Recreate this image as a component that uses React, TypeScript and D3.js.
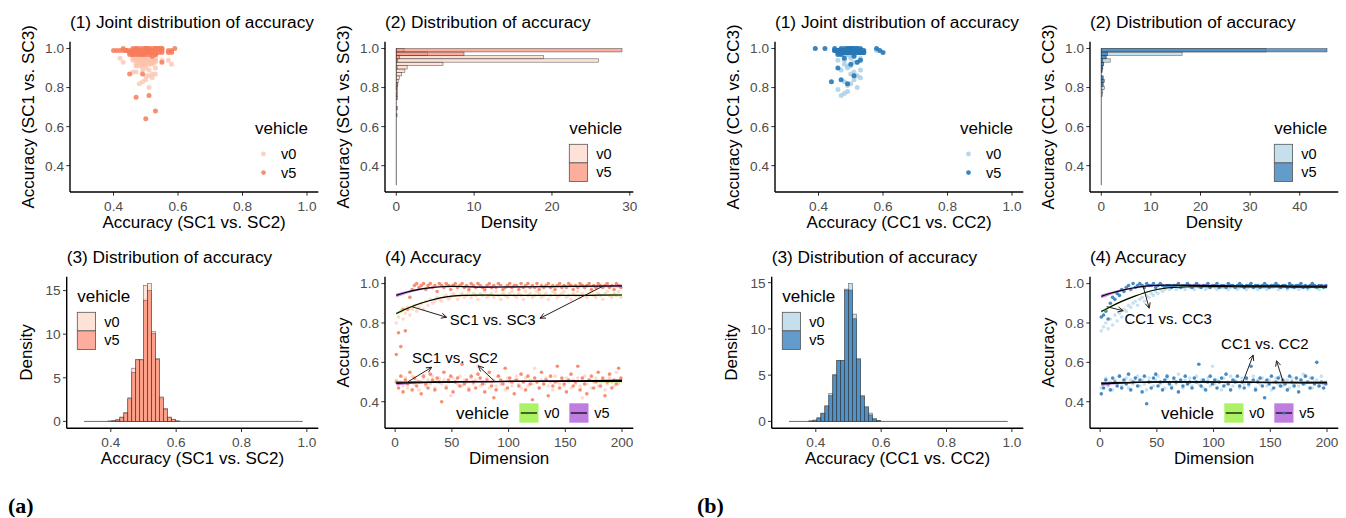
import React from "react";
import * as d3 from "d3";

const FONT = "'Liberation Sans', Arial, Helvetica, sans-serif";

// sampled dimensions (every other dimension)
const DIMS = d3.range(1, 201, 2);

// ---------- Figure (a): SC ----------
const A_SC12_V0 = [
  0.51,0.49,0.50,0.48,0.52,0.47,0.50,0.53,0.49,0.51,
  0.46,0.50,0.52,0.48,0.51,0.49,0.53,0.47,0.50,0.52,
  0.49,0.51,0.48,0.50,0.43,0.52,0.50,0.49,0.53,0.48,
  0.51,0.50,0.47,0.52,0.49,0.51,0.58,0.48,0.50,0.49,
  0.52,0.47,0.50,0.51,0.48,0.53,0.49,0.50,0.46,0.52,
  0.50,0.48,0.51,0.53,0.49,0.47,0.50,0.52,0.48,0.51,
  0.49,0.57,0.50,0.47,0.51,0.49,0.52,0.48,0.50,0.46,
  0.53,0.50,0.49,0.51,0.48,0.52,0.50,0.47,0.51,0.49,
  0.52,0.48,0.42,0.53,0.49,0.51,0.47,0.50,0.52,0.48,
  0.50,0.51,0.46,0.49,0.52,0.50,0.48,0.55,0.49,0.51];
const A_SC12_V5 = [
  0.50,0.47,0.53,0.45,0.51,0.49,0.55,0.46,0.52,0.48,
  0.50,0.44,0.53,0.49,0.47,0.54,0.51,0.46,0.52,0.50,
  0.40,0.55,0.47,0.51,0.53,0.45,0.50,0.52,0.48,0.59,
  0.49,0.51,0.46,0.53,0.50,0.47,0.54,0.52,0.49,0.45,
  0.51,0.55,0.48,0.42,0.46,0.53,0.51,0.49,0.57,0.47,
  0.52,0.50,0.44,0.51,0.48,0.54,0.50,0.46,0.53,0.49,
  0.41,0.52,0.50,0.47,0.55,0.49,0.51,0.43,0.53,0.48,
  0.50,0.58,0.47,0.52,0.49,0.45,0.51,0.54,0.48,0.50,
  0.58,0.46,0.52,0.49,0.44,0.51,0.53,0.47,0.50,0.55,
  0.48,0.52,0.43,0.50,0.54,0.47,0.51,0.49,0.57,0.52];
const A_SC13_V0 = [
  0.80,0.83,0.86,0.82,0.85,0.88,0.84,0.87,0.89,0.86,
  0.88,0.90,0.87,0.91,0.89,0.92,0.90,0.91,0.93,0.92,
  0.91,0.93,0.94,0.92,0.93,0.95,0.94,0.92,0.94,0.95,
  0.93,0.94,0.96,0.93,0.95,0.94,0.92,0.95,0.94,0.96,
  0.93,0.94,0.95,0.93,0.96,0.94,0.92,0.95,0.94,0.93,
  0.95,0.96,0.94,0.93,0.95,0.94,0.92,0.96,0.94,0.95,
  0.93,0.94,0.96,0.95,0.93,0.94,0.95,0.92,0.94,0.96,
  0.95,0.93,0.94,0.95,0.96,0.93,0.94,0.92,0.95,0.94,
  0.96,0.93,0.95,0.94,0.93,0.95,0.96,0.94,0.93,0.95,
  0.94,0.92,0.95,0.96,0.94,0.93,0.95,0.94,0.96,0.93];
const A_SC13_V5 = [
  0.64,0.75,0.68,0.87,0.76,0.87,0.93,0.97,0.99,1.00,
  0.98,0.99,1.00,0.97,0.99,1.00,0.98,0.99,0.96,1.00,
  0.99,0.98,1.00,0.99,0.97,0.99,1.00,0.98,0.99,1.00,
  0.98,0.99,0.97,1.00,0.99,0.98,1.00,0.99,0.98,0.97,
  0.99,1.00,0.98,0.99,0.98,1.00,0.99,0.97,0.98,0.99,
  1.00,0.98,0.99,0.99,0.97,1.00,0.98,0.99,1.00,0.98,
  0.99,0.98,1.00,0.97,0.99,0.98,0.99,1.00,0.98,0.99,
  0.97,0.99,1.00,0.98,0.99,0.98,1.00,0.99,0.97,0.99,
  0.98,1.00,0.99,0.98,0.99,1.00,0.97,0.99,0.98,1.00,
  0.99,0.98,0.99,1.00,0.98,0.99,0.97,1.00,0.99,0.98];

// ---------- Figure (b): CC ----------
const B_CC12_V0 = [
  0.47,0.49,0.52,0.48,0.50,0.46,0.51,0.49,0.53,0.48,
  0.50,0.52,0.47,0.51,0.49,0.50,0.53,0.48,0.51,0.49,
  0.46,0.52,0.50,0.48,0.51,0.53,0.49,0.50,0.47,0.52,
  0.50,0.48,0.51,0.49,0.54,0.50,0.47,0.51,0.49,0.52,
  0.48,0.50,0.53,0.49,0.51,0.47,0.50,0.52,0.48,0.58,
  0.49,0.51,0.50,0.46,0.52,0.49,0.50,0.53,0.48,0.51,
  0.50,0.47,0.52,0.49,0.51,0.48,0.50,0.53,0.47,0.51,
  0.49,0.52,0.50,0.48,0.51,0.46,0.50,0.52,0.49,0.53,
  0.48,0.50,0.51,0.47,0.52,0.49,0.50,0.48,0.51,0.54,
  0.49,0.50,0.52,0.47,0.50,0.51,0.48,0.53,0.49,0.50];
const B_CC12_V5 = [
  0.44,0.47,0.51,0.49,0.46,0.52,0.50,0.48,0.53,0.47,
  0.51,0.49,0.54,0.46,0.50,0.52,0.48,0.51,0.45,0.53,
  0.39,0.50,0.47,0.52,0.54,0.48,0.50,0.46,0.51,0.53,
  0.49,0.47,0.52,0.50,0.45,0.51,0.48,0.53,0.49,0.50,
  0.47,0.52,0.50,0.59,0.48,0.51,0.46,0.50,0.53,0.49,
  0.51,0.47,0.50,0.52,0.48,0.54,0.49,0.46,0.51,0.50,
  0.53,0.48,0.50,0.47,0.52,0.49,0.58,0.51,0.46,0.50,
  0.52,0.48,0.42,0.51,0.49,0.53,0.47,0.50,0.52,0.48,
  0.51,0.49,0.46,0.53,0.50,0.48,0.52,0.45,0.51,0.49,
  0.53,0.50,0.47,0.52,0.49,0.60,0.48,0.50,0.47,0.49];
const B_CC13_V0 = [
  0.76,0.78,0.80,0.77,0.82,0.79,0.84,0.81,0.85,0.83,
  0.87,0.86,0.89,0.88,0.90,0.91,0.89,0.92,0.93,0.91,
  0.94,0.93,0.95,0.94,0.96,0.95,0.97,0.96,0.97,0.98,
  0.97,0.98,0.99,0.97,0.98,0.99,0.98,0.97,0.99,0.98,
  0.98,0.97,0.99,0.98,0.98,0.99,0.97,0.98,0.98,0.99,
  0.98,0.97,0.99,0.98,0.98,0.99,0.97,0.98,0.99,0.98,
  0.97,0.98,0.99,0.98,0.97,0.98,0.99,0.98,0.98,0.97,
  0.99,0.98,0.98,0.97,0.99,0.98,0.98,0.99,0.97,0.98,
  0.98,0.99,0.97,0.98,0.98,0.99,0.98,0.97,0.98,0.99,
  0.98,0.97,0.98,0.99,0.98,0.98,0.97,0.99,0.98,0.98];
const B_CC13_V5 = [
  0.83,0.84,0.86,0.82,0.90,0.93,0.92,0.95,0.94,0.97,
  0.96,0.98,0.99,0.97,1.00,0.98,0.99,1.00,0.99,0.98,
  1.00,0.99,0.99,1.00,0.98,0.99,1.00,0.99,0.98,0.99,
  0.99,0.98,0.99,0.99,1.00,0.98,0.99,0.99,1.00,0.99,
  0.98,0.99,1.00,0.99,0.98,0.99,0.99,1.00,0.98,0.99,
  0.99,1.00,0.98,0.99,0.99,0.98,1.00,0.99,0.99,0.98,
  0.99,1.00,0.99,0.98,0.99,0.99,1.00,0.98,0.99,0.99,
  0.98,0.99,1.00,0.99,0.98,0.99,0.99,1.00,0.99,0.98,
  0.99,0.99,0.98,1.00,0.99,0.98,0.99,0.99,1.00,0.98,
  0.99,0.98,0.99,1.00,0.99,0.98,0.99,0.99,0.98,0.99];

// ---------- smooth (loess) fits ----------
const SMOOTH_DIMS = [1, 10, 20, 30, 40, 50, 60, 80, 100, 120, 140, 160, 180, 200];
const A_FIT13_V0 = [0.848,0.872,0.895,0.913,0.927,0.936,0.940,0.941,0.940,0.940,0.940,0.940,0.941,0.942];
const A_FIT13_V5 = [0.940,0.956,0.969,0.978,0.984,0.986,0.985,0.982,0.983,0.984,0.985,0.986,0.987,0.988];
const A_FIT12_V0 = [0.499,0.499,0.500,0.500,0.501,0.501,0.502,0.502,0.503,0.503,0.503,0.503,0.503,0.503];
const A_FIT12_V5 = [0.493,0.495,0.497,0.498,0.499,0.500,0.501,0.502,0.503,0.504,0.505,0.506,0.507,0.508];
const B_FIT13_V0 = [0.858,0.885,0.912,0.935,0.955,0.970,0.979,0.984,0.985,0.984,0.983,0.983,0.982,0.982];
const B_FIT13_V5 = [0.935,0.952,0.967,0.979,0.987,0.991,0.992,0.991,0.990,0.989,0.988,0.988,0.987,0.987];
const B_FIT12_V0 = [0.494,0.496,0.497,0.498,0.499,0.500,0.500,0.500,0.500,0.500,0.499,0.499,0.499,0.499];
const B_FIT12_V5 = [0.490,0.493,0.496,0.498,0.500,0.501,0.501,0.501,0.500,0.499,0.498,0.497,0.496,0.496];
const FIT_SE_V0 = [0.007,0.005,0.004,0.003,0.003,0.003,0.003,0.003,0.003,0.003,0.003,0.003,0.004,0.006];
const FIT_SE_V5 = [0.010,0.007,0.005,0.004,0.004,0.004,0.004,0.004,0.004,0.004,0.004,0.004,0.005,0.008];

// ---------- histogram (2): accuracy SCx vs SC3, 40 bins from 0.3 ----------
const H2_START = 0.3;
const H2_WIDTH = 0.0175;
const A_H2_V0 = [0,0,0,0,0,0,0,0,0,0, 0,0,0,0,0,0,0,0,0,0, 0,0,0,0,0,0,0.1,0.15,0.1,0.2, 0.25,0.4,0.7,1.1,1.4,6.0,26.0,18.9,4.0,1.0];
const A_H2_V5 = [0,0,0,0,0,0,0,0,0,0, 0,0,0,0,0,0,0,0,0,0, 0.1,0,0.15,0,0,0.15,0.1,0,0.1,0.15, 0,0,0,0,0.1,0,0.2,0.4,8.7,29.0];
const B_H2_V0 = [0,0,0,0,0,0,0,0,0,0, 0,0,0,0,0,0,0,0,0,0, 0,0,0,0,0,0,0.2,0.3,0.6,0.4, 0.3,0.2,0,0.2,0.3,0.5,1.8,1.1,16.3,33.2];
const B_H2_V5 = [0,0,0,0,0,0,0,0,0,0, 0,0,0,0,0,0,0,0,0,0, 0,0,0,0,0,0,0,0,0,0.3, 0.6,0.4,0,0.1,0.3,0.4,0.3,0.9,1.3,45.5];

// ---------- histogram (3): accuracy SC1 vs SC2, 55 bins from 0.318 ----------
const H3_START = 0.318;
const H3_WIDTH = 0.01217;
const A_H3_V0 = [0,0,0,0,0,0, 0.05,0.1,0.2,0.5,1.0,2.7,6.1,7.1,7.1,15.6,15.8,10.3,7.2,2.8,1.5,0.5,0.25,0.05,
  0,0,0,0,0,0,0,0,0,0,0,0,0,0,0,0,0,0,0,0,0,0,0,0,0,0,0,0,0,0,0];
const A_H3_V5 = [0,0,0,0,0,0, 0,0.05,0.15,0.45,0.95,2.6,5.6,7.06,7.06,13.9,15.0,10.1,7.1,2.7,1.4,0.45,0.2,0.05,
  0,0,0,0,0,0,0,0,0,0,0,0,0,0,0,0,0,0,0,0,0,0,0,0,0,0,0,0,0,0,0];
const B_H3_V0 = [0,0,0,0,0, 0.05,0.15,0.4,0.9,1.7,3.0,5.1,6.6,6.6,14.3,14.9,11.6,6.8,2.8,1.6,0.9,0.3,0.1,
  0,0,0,0,0,0,0,0,0,0,0,0,0,0,0,0,0,0,0,0,0,0,0,0,0,0,0,0,0,0,0,0];
const B_H3_V5 = [0,0,0,0,0, 0.05,0.1,0.35,0.85,1.6,2.8,5.0,6.6,6.6,14.2,14.2,11.1,6.7,2.7,1.5,0.7,0.25,0.1,
  0,0,0,0,0,0,0,0,0,0,0,0,0,0,0,0,0,0,0,0,0,0,0,0,0,0,0,0,0,0,0,0];

// ---------- ticks / labels ----------
const ACC_TICKS = [0.4, 0.6, 0.8, 1.0];
const DIM_TICKS = [0, 50, 100, 150, 200];
const A_DENS2_TICKS = [0, 10, 20, 30];
const B_DENS2_TICKS = [0, 10, 20, 30, 40];
const DENS3_TICKS = [0, 5, 10, 15];
const VEHICLES = ["v0", "v5"];
const ACC_RANGE = [0.3, 1.0];
const DIM_RANGE = [1, 200];

// annotations in data coordinates: [dim, acc]
const A_LABELS = [
  { text: "SC1 vs. SC3", dim: 86, acc: 0.819 },
  { text: "SC1 vs. SC2", dim: 52.7, acc: 0.626 },
];
const A_ARROWS = [
  [14.5, 0.883, 45.4, 0.829],
  [183.5, 0.988, 127.7, 0.824],
  [11.5, 0.502, 32.2, 0.575],
  [88, 0.502, 73.3, 0.582],
];
const B_LABELS = [
  { text: "CC1 vs. CC3", dim: 60, acc: 0.82 },
  { text: "CC1 vs. CC2", dim: 145.2, acc: 0.693 },
];
const B_ARROWS = [
  [5.7, 0.883, 20.3, 0.862],
  [38, 0.984, 43.2, 0.875],
  [126, 0.502, 134.9, 0.637],
  [161.3, 0.502, 155.5, 0.608],
];

const FIG_A = {
  c1: "SC1", c2: "SC2", c3: "SC3",
  a12: [A_SC12_V0, A_SC12_V5], a13: [A_SC13_V0, A_SC13_V5],
  fit12: [A_FIT12_V0, A_FIT12_V5], fit13: [A_FIT13_V0, A_FIT13_V5],
  h2: [A_H2_V0, A_H2_V5], h3: [A_H3_V0, A_H3_V5], dens2Ticks: A_DENS2_TICKS,
  labels: A_LABELS, arrows: A_ARROWS,
  pt: ["#fcc3ad", "#f67c5a"], pt1op: [0.75, 0.85],
  hist: ["#fcbba1", "#fb6a4a"], histOp: [0.42, 0.55],
  keyDot: false,
};
const FIG_B = {
  c1: "CC1", c2: "CC2", c3: "CC3",
  a12: [B_CC12_V0, B_CC12_V5], a13: [B_CC13_V0, B_CC13_V5],
  fit12: [B_FIT12_V0, B_FIT12_V5], fit13: [B_FIT13_V0, B_FIT13_V5],
  h2: [B_H2_V0, B_H2_V5], h3: [B_H3_V0, B_H3_V5], dens2Ticks: B_DENS2_TICKS,
  labels: B_LABELS, arrows: B_ARROWS,
  pt: ["#a6cde4", "#2878b6"], pt1op: [0.8, 0.9],
  hist: ["#9ecae1", "#2171b5"], histOp: [0.6, 0.7],
  keyDot: true,
};

const RIBBON = ["#9ef04a", "#b466d9"];
const fmtAcc = d3.format(".1f");
const fmtInt = d3.format("d");

function expand(lo: number, hi: number, f = 0.05) {
  const d = (hi - lo) * f;
  return [lo - d, hi + d];
}

function Axes({ xs, ys, xTicks, yTicks, fmtX, fmtY, title, xTitle, yTitle, yGap }: any) {
  const [x0, x1] = xs.range();
  const [yb, yt] = ys.range();
  return (
    <g fontFamily={FONT}>
      <text x={x0} y={yt - 14} fontSize={17.3} fill="#000">{title}</text>
      {yTicks.map((t: number) => (
        <g key={"y" + t}>
          <line x1={x0 - 3.7} x2={x0} y1={ys(t)} y2={ys(t)} stroke="#333" strokeWidth={1} />
          <text x={x0 - 6} y={ys(t)} dy="0.36em" textAnchor="end" fontSize={13.6} fill="#4d4d4d">{fmtY(t)}</text>
        </g>
      ))}
      {xTicks.map((t: number) => (
        <g key={"x" + t}>
          <line x1={xs(t)} x2={xs(t)} y1={yb} y2={yb + 3.7} stroke="#333" strokeWidth={1} />
          <text x={xs(t)} y={yb + 18.5} textAnchor="middle" fontSize={13.6} fill="#4d4d4d">{fmtX(t)}</text>
        </g>
      ))}
      <line x1={x0} x2={x0} y1={yt} y2={yb} stroke="#000" strokeWidth={1.4} />
      <line x1={x0} x2={x1} y1={yb} y2={yb} stroke="#000" strokeWidth={1.4} />
      <text x={(x0 + x1) / 2} y={yb + 35.5} textAnchor="middle" fontSize={17} fill="#000">{xTitle}</text>
      <text transform={`translate(${x0 - yGap},${(yt + yb) / 2}) rotate(-90)`} textAnchor="middle" fontSize={17} fill="#000">{yTitle}</text>
    </g>
  );
}

function PointLegend({ x, y, colors, ops }: any) {
  return (
    <g fontFamily={FONT}>
      <text x={x} y={y} fontSize={17}>vehicle</text>
      {VEHICLES.map((v, i) => (
        <g key={v}>
          <circle cx={x + 8.5} cy={y + 20.5 + i * 18.6} r={2.4} fill={colors[i]} fillOpacity={ops[i]} />
          <text x={x + 26} y={y + 20.5 + i * 18.6} dy="0.36em" fontSize={14.5}>{v}</text>
        </g>
      ))}
    </g>
  );
}

function BoxLegend({ x, y, colors, ops }: any) {
  return (
    <g fontFamily={FONT}>
      <text x={x} y={y} fontSize={17}>vehicle</text>
      {VEHICLES.map((v, i) => (
        <g key={v}>
          <rect x={x} y={y + 10.5 + i * 18.6} width={18.3} height={18.6} fill="#fff" />
          <rect x={x} y={y + 10.5 + i * 18.6} width={18.3} height={18.6} fill={colors[i]} fillOpacity={ops[i]} stroke="#555" strokeWidth={0.8} />
          <text x={x + 27} y={y + 19.8 + i * 18.6} dy="0.36em" fontSize={14.5}>{v}</text>
        </g>
      ))}
    </g>
  );
}

function Arrow({ x1, y1, x2, y2 }: any) {
  const a = Math.atan2(y2 - y1, x2 - x1);
  const L = 6;
  const p1 = [x2 - L * Math.cos(a - Math.PI / 7), y2 - L * Math.sin(a - Math.PI / 7)];
  const p2 = [x2 - L * Math.cos(a + Math.PI / 7), y2 - L * Math.sin(a + Math.PI / 7)];
  return (
    <g stroke="#2a1c1c" strokeWidth={1} fill="none">
      <line x1={x1} y1={y1} x2={x2} y2={y2} />
      <path d={`M${p1[0]},${p1[1]}L${x2},${y2}L${p2[0]},${p2[1]}`} />
    </g>
  );
}

function Figure({ ox, d }: { ox: number; d: any }) {
  const accDom = expand(ACC_RANGE[0], ACC_RANGE[1]);
  const dimDom = expand(DIM_RANGE[0], DIM_RANGE[1]);
  const top1 = 41.7, bot1 = 192, top2 = 276.7, bot2 = 428.3;

  const x1s = d3.scaleLinear().domain(accDom).range([ox + 70, ox + 318.3]);
  const y1s = d3.scaleLinear().domain(accDom).range([bot1, top1]);

  const max2 = d3.max([...d.h2[0], ...d.h2[1]]) as number;
  const x2s = d3.scaleLinear().domain(expand(0, max2)).range([ox + 385, ox + 633.3]);
  const y2s = y1s.copy();

  const max3 = d3.max([...d.h3[0], ...d.h3[1]]) as number;
  const x3s = d3.scaleLinear().domain(accDom).range([ox + 66.7, ox + 318.3]);
  const y3s = d3.scaleLinear().domain(expand(0, max3)).range([bot2, top2]);

  const x4s = d3.scaleLinear().domain(dimDom).range([ox + 385, ox + 633.3]);
  const y4s = d3.scaleLinear().domain(accDom).range([bot2, top2]);

  const n2 = d.h2[0].length;
  const n3 = d.h3[0].length;

  const line = d3.line<number>().x((_, i) => x4s(SMOOTH_DIMS[i])).y((v) => y4s(v)).curve(d3.curveMonotoneX);
  const se = [FIT_SE_V0, FIT_SE_V5];
  const ribbon = (fit: number[], s: number[]) =>
    d3.area<number>()
      .x((_, i) => x4s(SMOOTH_DIMS[i]))
      .y0((v, i) => y4s(v - s[i]))
      .y1((v, i) => y4s(v + s[i]))
      .curve(d3.curveMonotoneX)(fit) as string;

  const clip4 = `clip4-${ox}`;

  return (
    <g>
      {/* ---------- Panel 1 ---------- */}
      <g>
        {[0, 1].map((k) => (
          <g key={k} fill={d.pt[k]} fillOpacity={d.pt1op[k]}>
            {d.a12[k].map((xv: number, i: number) => (
              <circle key={i} cx={x1s(xv)} cy={y1s(d.a13[k][i])} r={2.5} />
            ))}
          </g>
        ))}
        <Axes xs={x1s} ys={y1s} xTicks={ACC_TICKS} yTicks={ACC_TICKS} fmtX={fmtAcc} fmtY={fmtAcc}
          title="(1) Joint distribution of accuracy"
          xTitle={`Accuracy (${d.c1} vs. ${d.c2})`} yTitle={`Accuracy (${d.c1} vs. ${d.c3})`} yGap={36} />
        <PointLegend x={ox + 255} y={133.5} colors={d.pt} ops={d.pt1op} />
      </g>

      {/* ---------- Panel 2 ---------- */}
      <g>
        <line x1={x2s(0)} x2={x2s(0)} y1={y2s(H2_START)} y2={y2s(H2_START + n2 * H2_WIDTH)} stroke="#444" strokeWidth={0.8} />
        {[0, 1].map((k) => (
          <g key={k}>
            {d.h2[k].map((v: number, i: number) =>
              v > 0 ? (
                <rect key={i} x={x2s(0)} y={y2s(H2_START + (i + 1) * H2_WIDTH)}
                  width={x2s(v) - x2s(0)} height={y2s(H2_START + i * H2_WIDTH) - y2s(H2_START + (i + 1) * H2_WIDTH)}
                  fill={d.hist[k]} fillOpacity={d.histOp[k]} stroke="#3a3a3a" strokeWidth={0.6} strokeOpacity={0.75} />
              ) : null
            )}
          </g>
        ))}
        <Axes xs={x2s} ys={y2s} xTicks={d.dens2Ticks} yTicks={ACC_TICKS} fmtX={fmtInt} fmtY={fmtAcc}
          title="(2) Distribution of accuracy" xTitle="Density" yTitle={`Accuracy (${d.c1} vs. ${d.c3})`} yGap={36} />
        <BoxLegend x={ox + 569.3} y={133.8} colors={d.hist} ops={d.histOp} />
      </g>

      {/* ---------- Panel 3 ---------- */}
      <g>
        <line x1={x3s(H3_START)} x2={x3s(H3_START + n3 * H3_WIDTH)} y1={y3s(0)} y2={y3s(0)} stroke="#444" strokeWidth={0.8} />
        {[0, 1].map((k) => (
          <g key={k}>
            {d.h3[k].map((v: number, i: number) =>
              v > 0 ? (
                <rect key={i} x={x3s(H3_START + i * H3_WIDTH)} y={y3s(v)}
                  width={x3s(H3_START + (i + 1) * H3_WIDTH) - x3s(H3_START + i * H3_WIDTH)} height={y3s(0) - y3s(v)}
                  fill={d.hist[k]} fillOpacity={d.histOp[k]} stroke="#3a3a3a" strokeWidth={0.6} strokeOpacity={0.75} />
              ) : null
            )}
          </g>
        ))}
        <Axes xs={x3s} ys={y3s} xTicks={ACC_TICKS} yTicks={DENS3_TICKS} fmtX={fmtAcc} fmtY={fmtInt}
          title="(3) Distribution of accuracy" xTitle={`Accuracy (${d.c1} vs. ${d.c2})`} yTitle="Density" yGap={35} />
        <BoxLegend x={ox + 77.3} y={301.8} colors={d.hist} ops={d.histOp} />
      </g>

      {/* ---------- Panel 4 ---------- */}
      <g>
        <defs>
          <clipPath id={clip4}>
            <rect x={ox + 385} y={top2} width={248.3} height={bot2 - top2} />
          </clipPath>
        </defs>
        <g clipPath={`url(#${clip4})`}>
          {[0, 1].map((k) => (
            <g key={k} fill={d.pt[k]} fillOpacity={k === 0 ? 0.6 : 0.85}>
              {d.a13[k].map((v: number, i: number) => (
                <circle key={"a" + i} cx={x4s(DIMS[i])} cy={y4s(v)} r={1.8} />
              ))}
              {d.a12[k].map((v: number, i: number) => (
                <circle key={"b" + i} cx={x4s(DIMS[i])} cy={y4s(v)} r={1.8} />
              ))}
            </g>
          ))}
          {[0, 1].map((k) => (
            <g key={"r" + k} fill={RIBBON[k]} fillOpacity={0.75}>
              <path d={ribbon(d.fit13[k], se[k])} />
              <path d={ribbon(d.fit12[k], se[k])} />
            </g>
          ))}
          {[0, 1].map((k) => (
            <g key={"l" + k} stroke="#000" strokeWidth={1.2} fill="none">
              <path d={line(d.fit13[k]) as string} />
              <path d={line(d.fit12[k]) as string} />
            </g>
          ))}
        </g>
        {d.arrows.map((a: number[], i: number) => (
          <Arrow key={i} x1={x4s(a[0])} y1={y4s(a[1])} x2={x4s(a[2])} y2={y4s(a[3])} />
        ))}
        {d.labels.map((l: any) => (
          <text key={l.text} x={x4s(l.dim)} y={y4s(l.acc)} dy="0.36em" textAnchor="middle" fontSize={15} fontFamily={FONT}>{l.text}</text>
        ))}
        <Axes xs={x4s} ys={y4s} xTicks={DIM_TICKS} yTicks={ACC_TICKS} fmtX={fmtInt} fmtY={fmtAcc}
          title="(4) Accuracy" xTitle="Dimension" yTitle="Accuracy" yGap={36} />
        <g fontFamily={FONT}>
          <text x={ox + 385 + 71} y={418.8} fontSize={17}>vehicle</text>
          {VEHICLES.map((v, i) => {
            const kx = ox + 385 + (i === 0 ? 134.3 : 184.3);
            return (
              <g key={v}>
                <rect x={kx} y={403.3} width={19.2} height={19.4} fill={RIBBON[i]} fillOpacity={0.85} />
                <line x1={kx + 1.5} x2={kx + 17.7} y1={413} y2={413} stroke="#000" strokeWidth={1.2} />
                {d.keyDot && i === 1 ? <circle cx={kx + 9.6} cy={413} r={1.6} fill={d.pt[1]} /> : null}
                <text x={kx + 25} y={413} dy="0.36em" fontSize={14.5}>{v}</text>
              </g>
            );
          })}
        </g>
      </g>
    </g>
  );
}

export default function App() {
  return (
    <svg width={1346} height={518} style={{ position: "absolute", left: 0, top: 0, background: "#fff" }}>
      <rect x={0} y={0} width={1346} height={518} fill="#fff" />
      <Figure ox={0} d={FIG_A} />
      <Figure ox={705} d={FIG_B} />
      <text x={8} y={513} fontSize={22} fontWeight="bold" fontFamily="'Liberation Serif', 'DejaVu Serif', serif">(a)</text>
      <text x={697} y={513} fontSize={22} fontWeight="bold" fontFamily="'Liberation Serif', 'DejaVu Serif', serif">(b)</text>
    </svg>
  );
}
